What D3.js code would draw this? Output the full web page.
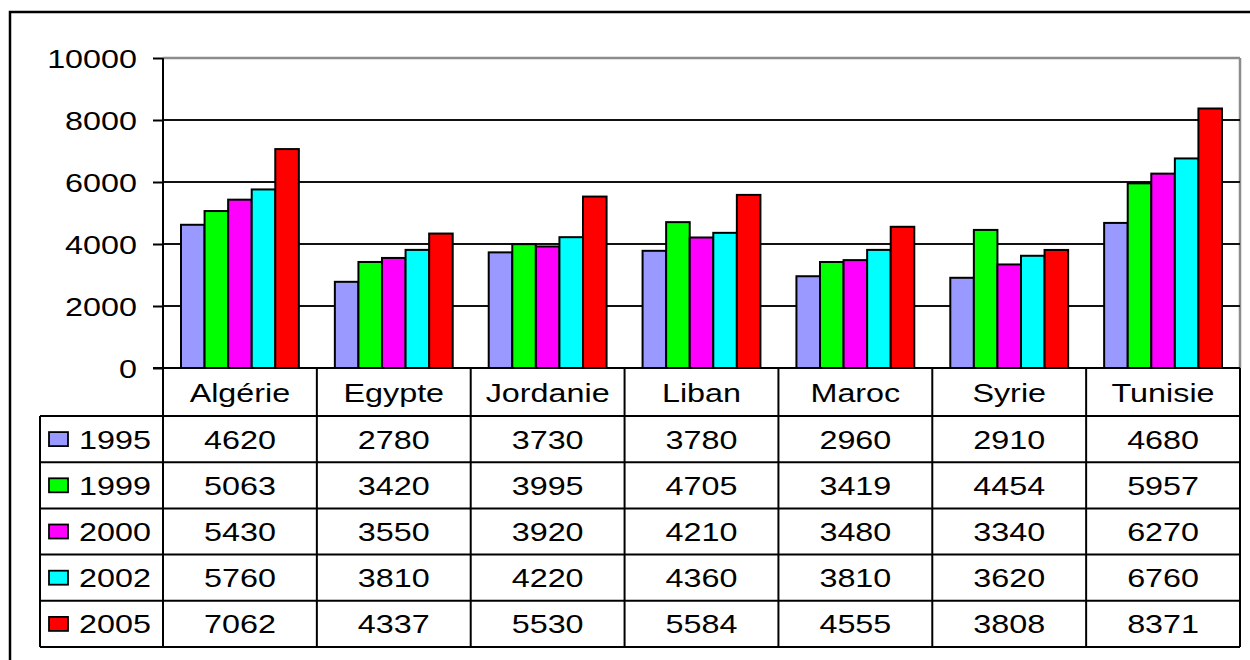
<!DOCTYPE html>
<html>
<head>
<meta charset="utf-8">
<script src="https://cdn.jsdelivr.net/npm/d3@7"></script>
<style>
  body { margin: 0; background: #fff; }
  text { font-family: "Liberation Sans", Arial, sans-serif; fill: #000; }
</style>
</head>
<body>
<script>
// data
const categories = ['Algérie', 'Egypte', 'Jordanie', 'Liban', 'Maroc', 'Syrie', 'Tunisie']
const years = ['1995', '1999', '2000', '2002', '2005']
const v1995 = [4620, 2780, 3730, 3780, 2960, 2910, 4680]
const v1999 = [5063, 3420, 3995, 4705, 3419, 4454, 5957]
const v2000 = [5430, 3550, 3920, 4210, 3480, 3340, 6270]
const v2002 = [5760, 3810, 4220, 4360, 3810, 3620, 6760]
const v2005 = [7062, 4337, 5530, 5584, 4555, 3808, 8371]
const yTicks = [0, 2000, 4000, 6000, 8000, 10000]
const colors = ['#9999FF', '#00FF00', '#FF00FF', '#00FFFF', '#FF0000']

const series = [v1995, v1999, v2000, v2002, v2005]

// layout
const w = 1250
const h = 660
const plotLeft = 163
const plotRight = 1240
const plotTop = 58
const base = 368
const headBottom = 416
const tableBottom = 647
const legendLeft = 40
const fs = 26.5
const sx = 1.22

const svg = d3.select('body').append('svg')
  .attr('width', w)
  .attr('height', h)

// outer frame
svg.append('rect')
  .attr('x', 10).attr('y', 12)
  .attr('width', w + 10).attr('height', h + 10)
  .attr('fill', 'none').attr('stroke', '#000').attr('stroke-width', 2.5)

// scales
const x = d3.scaleBand().domain(categories).range([plotLeft, plotRight])
  .paddingInner(0.234).paddingOuter(0.117)
const xs = d3.scaleBand().domain(years).range([0, x.bandwidth()])
const y = d3.scaleLinear().domain([0, 10000]).range([base, plotTop])
const col = d3.scaleOrdinal().domain(years).range(colors)
const rows = d3.scaleBand().domain(years).range([headBottom, tableBottom])
const step = x.step()

function label(g, px, py, t, anchor) {
  return g.append('text')
    .attr('transform', `translate(${px},${py}) scale(${sx},1)`)
    .attr('text-anchor', anchor || 'middle')
    .style('font-size', fs + 'px')
    .text(t)
}

// plot border (gray) top and right
svg.append('line')
  .attr('x1', plotLeft).attr('x2', plotRight).attr('y1', y(10000)).attr('y2', y(10000))
  .attr('stroke', '#8c8c8c').attr('stroke-width', 2.5)
svg.append('line')
  .attr('x1', plotRight).attr('x2', plotRight).attr('y1', y(10000)).attr('y2', base)
  .attr('stroke', '#8c8c8c').attr('stroke-width', 2.5)

// gridlines
svg.selectAll('.grid')
  .data(yTicks.filter(d => d > 0 && d < 10000))
  .enter().append('line')
  .attr('class', 'grid')
  .attr('x1', plotLeft).attr('x2', plotRight)
  .attr('y1', d => y(d)).attr('y2', d => y(d))
  .attr('stroke', '#111').attr('stroke-width', 2)

// y axis
const yAxis = svg.append('g')
  .attr('transform', `translate(${plotLeft},0)`)
  .call(d3.axisLeft(y).tickValues(yTicks).tickSize(10).tickSizeOuter(0).tickFormat(d3.format('d')))
yAxis.select('.domain').remove()
yAxis.selectAll('.tick line').attr('stroke', '#000').attr('stroke-width', 2)
yAxis.selectAll('.tick text')
  .attr('x', null).attr('dy', null)
  .attr('transform', `translate(-26,9.5) scale(${sx},1)`)
  .style('font-size', fs + 'px')
  .style('font-family', '"Liberation Sans", Arial, sans-serif')
  .attr('fill', '#000')

// bars
const groups = svg.selectAll('.cat')
  .data(categories)
  .enter().append('g')
  .attr('class', 'cat')
  .attr('transform', d => `translate(${x(d)},0)`)

groups.selectAll('rect')
  .data((c, i) => years.map((yr, j) => ({ yr: yr, v: series[j][i] })))
  .enter().append('rect')
  .attr('x', d => xs(d.yr))
  .attr('y', d => y(d.v))
  .attr('width', xs.bandwidth())
  .attr('height', d => base - y(d.v))
  .attr('fill', d => col(d.yr))
  .attr('stroke', '#000').attr('stroke-width', 2)

// data table
const tbl = svg.append('g')
const line = (x1, y1, x2, y2) => tbl.append('line')
  .attr('x1', x1).attr('y1', y1).attr('x2', x2).attr('y2', y2)
  .attr('stroke', '#000').attr('stroke-width', 2)

// y axis line, through the table
line(plotLeft, plotTop, plotLeft, tableBottom)
// baseline
line(plotLeft - 10, base, plotRight, base)
// row lines
years.forEach(yr => line(legendLeft, rows(yr), plotRight, rows(yr)))
line(legendLeft, tableBottom, plotRight, tableBottom)
// column lines
line(legendLeft, headBottom, legendLeft, tableBottom)
categories.forEach((c, i) => line(plotLeft + step * (i + 1), base, plotLeft + step * (i + 1), tableBottom))

// header
categories.forEach((c, i) => label(tbl, plotLeft + step * (i + 0.5), (base + headBottom) / 2 + 9.5, c))

// legend column + values
years.forEach((yr, j) => {
  const cy = rows(yr) + rows.bandwidth() / 2
  tbl.append('rect')
    .attr('x', 49).attr('y', cy - 7)
    .attr('width', 19).attr('height', 14)
    .attr('fill', col(yr)).attr('stroke', '#000').attr('stroke-width', 1.8)
  label(tbl, 79, cy + 9.5, yr, 'start')
  categories.forEach((c, i) => label(tbl, plotLeft + step * (i + 0.5), cy + 9.5, series[j][i]))
})
</script>
</body>
</html>
